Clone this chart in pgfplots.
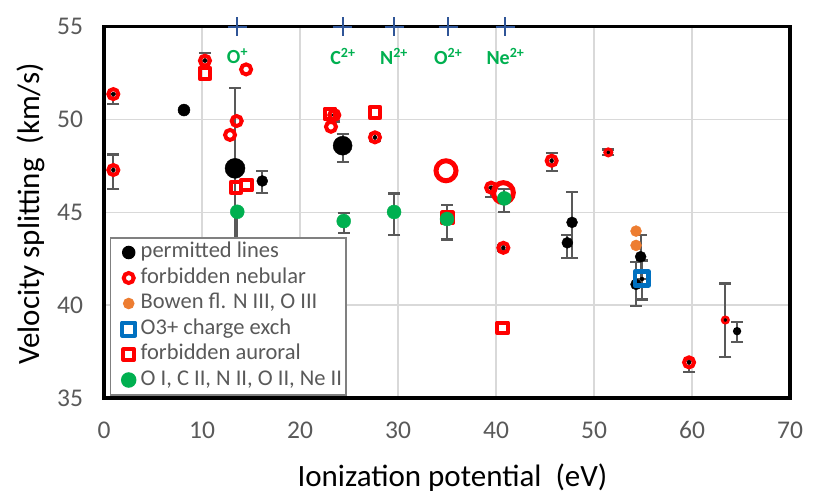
\documentclass[border=0pt]{standalone}
\usepackage{fontspec}
\setmainfont{Carlito}
\usepackage{pgfplots}
\pgfplotsset{compat=1.18}
\usepackage{pgfplotstable}
\definecolor{tickgray}{HTML}{595959}
\definecolor{gridgray}{HTML}{D9D9D9}
\definecolor{ered}{HTML}{FF0000}
\definecolor{egreen}{HTML}{00B050}
\definecolor{eorange}{HTML}{ED7D31}
\definecolor{eblue}{HTML}{0070C0}
\definecolor{enavy}{HTML}{2F5597}
\definecolor{legframe}{HTML}{808080}

% error bars: x y plus minus
\pgfplotstableread{
x y ep em
0.95 51.37 0.00 0.53
0.95 47.28 0.84 1.04
10.3 53.17 0.40 0.00
13.37 47.37 4.31 4.31
13.6 45.03 0.00 1.50
16.15 46.69 0.55 0.63
24.35 48.59 0.63 0.86
23.5 50.24 0.00 0.35
27.65 49.04 0.20 0.20
24.46 44.53 0.42 0.63
29.6 45.02 1.00 1.24
35.0 44.64 0.75 1.10
40.85 45.75 0.49 0.72
39.5 46.33 0.00 0.50
40.75 43.09 0.15 0.15
45.68 47.78 0.40 0.54
51.46 48.23 0.15 0.15
47.76 44.46 1.65 1.91
47.28 43.36 0.42 0.81
54.76 42.61 1.17 1.20
54.9 41.41 1.00 1.10
54.29 41.12 1.20 1.17
59.7 36.92 0.10 0.52
63.4 39.2 1.97 1.98
64.6 38.6 0.50 0.60
}\errtab

\begin{document}
\begin{tikzpicture}
\begin{axis}[
  at={(104bp,102bp)}, anchor=south west,
  scale only axis, width=686bp, height=371.3bp,
  xmin=0, xmax=70, ymin=35, ymax=55,
  xtick={0,10,...,70}, ytick={35,40,...,55},
  grid=major, major grid style={gridgray, line width=1.5bp},
  major tick length=0pt,
  axis line style={black, line width=3.5bp},
  tick label style={tickgray, font=\fontsize{25.5bp}{30bp}\selectfont},
  /pgf/number format/assume math mode=true,
  yticklabel style={xshift=-17.5bp},
  xticklabel style={yshift=-20bp},
  xlabel={Ionization potential\ \ (eV)},
  ylabel={Velocity splitting\ \ (km/s)},
  label style={font=\fontsize{31bp}{36bp}\selectfont, black},
  xlabel style={at={(axis description cs:0.508,-0.2389)}, anchor=base},
  ylabel style={at={(axis description cs:-0.0943,0.4955)}, anchor=base},
  clip=false,
  legend cell align=left,
  legend image code/.code={\path (0bp,0bp) (22bp,0bp);
    \draw[#1] plot coordinates {(14bp,0bp)};},
  legend style={at={(axis description cs:0.0087,0.4336)}, anchor=north west,
    draw=legframe, line width=1.5bp, fill=white, text=tickgray,
    font=\fontsize{22.5bp}{27bp}\selectfont,
    inner sep=2bp, row sep=0pt,
    nodes={inner ysep=2.5bp, inner xsep=2bp, text height=15.5bp, text depth=5bp}},
]
% error bars
\addplot[only marks, mark=none, forget plot,
  error bars/.cd, y dir=both, y explicit,
  error bar style={tickgray, line width=2.2bp},
  error mark options={tickgray, rotate=90, mark size=6bp, line width=2.2bp}]
  table[x=x, y=y, y error plus=ep, y error minus=em] {\errtab};

% permitted lines (black)
\addplot[only marks, mark=*, black, mark size=6bp, forget plot] coordinates {(8.16,50.51)};
\addplot[only marks, mark=*, black, mark size=10bp, forget plot] coordinates {(13.37,47.37)};
\addplot[only marks, mark=*, black, mark size=9.5bp, forget plot] coordinates {(24.35,48.59)};
\addplot[only marks, mark=*, black, mark size=5.5bp, forget plot] coordinates {
  (16.15,46.69) (47.28,43.36) (47.76,44.46) (54.76,42.61) (54.29,41.12)};
\addplot[only marks, mark=o, black, mark size=3bp, line width=2.2bp, forget plot] coordinates {(64.6,38.6)};

% forbidden nebular (red rings)
\addplot[only marks, mark=o, ered, mark size=5bp, line width=4bp, forget plot] coordinates {
  (0.95,51.37) (0.95,47.28) (10.3,53.17) (14.5,52.7) (13.54,49.92) (12.86,49.17)
  (23.16,49.61) (23.5,50.24) (27.65,49.04) (39.5,46.33) (40.75,43.09)
  (45.68,47.78) (59.7,36.92)};
\addplot[only marks, mark=o, ered, mark size=10bp, line width=5bp, forget plot] coordinates {
  (34.9,47.24) (40.75,46.06)};
\addplot[only marks, mark=o, ered, mark size=3.5bp, line width=3bp, forget plot] coordinates {(51.46,48.23)};
\addplot[only marks, mark=o, ered, mark size=3.25bp, line width=2.5bp, forget plot] coordinates {(63.4,39.2)};

% Bowen fluorescence (orange)
\addplot[only marks, mark=*, eorange, mark size=5.5bp, forget plot] coordinates {(54.29,43.99) (54.29,43.22)};

% O3+ charge exchange (blue square)
\addplot[only marks, mark=square, eblue, mark size=6.9bp, line width=4.5bp, line join=round, forget plot] coordinates {(54.87,41.44)};

% forbidden auroral (red squares)
\addplot[only marks, mark=square, ered, mark size=5.3bp, line width=4bp, line join=round, forget plot] coordinates {
  (10.3,52.49) (13.47,46.35) (14.56,46.47) (23.06,50.3) (27.65,50.39) (35.06,44.71) (40.68,38.78)};

% O I, C II, N II, O II, Ne II (green)
\addplot[only marks, mark=*, egreen, mark size=7bp, forget plot] coordinates {
  (13.6,45.03) (24.46,44.53) (29.6,45.02) (35.0,44.64) (40.85,45.75)};

% ionization potentials of ions on the top axis
\addplot[only marks, mark=+, enavy, mark size=9.5bp, line width=2bp, forget plot] coordinates {
  (13.62,55) (24.38,55) (29.6,55) (35.12,55) (40.96,55)};
\begin{scope}[every node/.style={egreen, font=\bfseries\fontsize{20bp}{24bp}\selectfont}]
\node at (axis cs:13.62,53.4) {O\textsuperscript{+}};
\node at (axis cs:24.38,53.4) {C\textsuperscript{2+}};
\node at (axis cs:29.6,53.4) {N\textsuperscript{2+}};
\node at (axis cs:35.12,53.4) {O\textsuperscript{2+}};
\node at (axis cs:40.96,53.4) {Ne\textsuperscript{2+}};
\end{scope}

% legend
\addlegendimage{mark=*, black, mark size=6bp}
\addlegendentry{permitted lines}
\addlegendimage{mark=o, ered, mark size=5bp, line width=4bp}
\addlegendentry{forbidden nebular}
\addlegendimage{mark=*, eorange, mark size=5bp}
\addlegendentry{Bowen fl. N III, O III}
\addlegendimage{mark=square, eblue, mark size=6.5bp, line width=4bp, line join=round}
\addlegendentry{O3+ charge exch}
\addlegendimage{mark=square, ered, mark size=5.3bp, line width=4bp, line join=round}
\addlegendentry{forbidden auroral}
\addlegendimage{mark=*, egreen, mark size=7bp}
\addlegendentry{O I, C II, N II, O II, Ne II}
\end{axis}
\pgfresetboundingbox
\path[use as bounding box] (0,0) rectangle (830bp,500bp);
\end{tikzpicture}
\end{document}
